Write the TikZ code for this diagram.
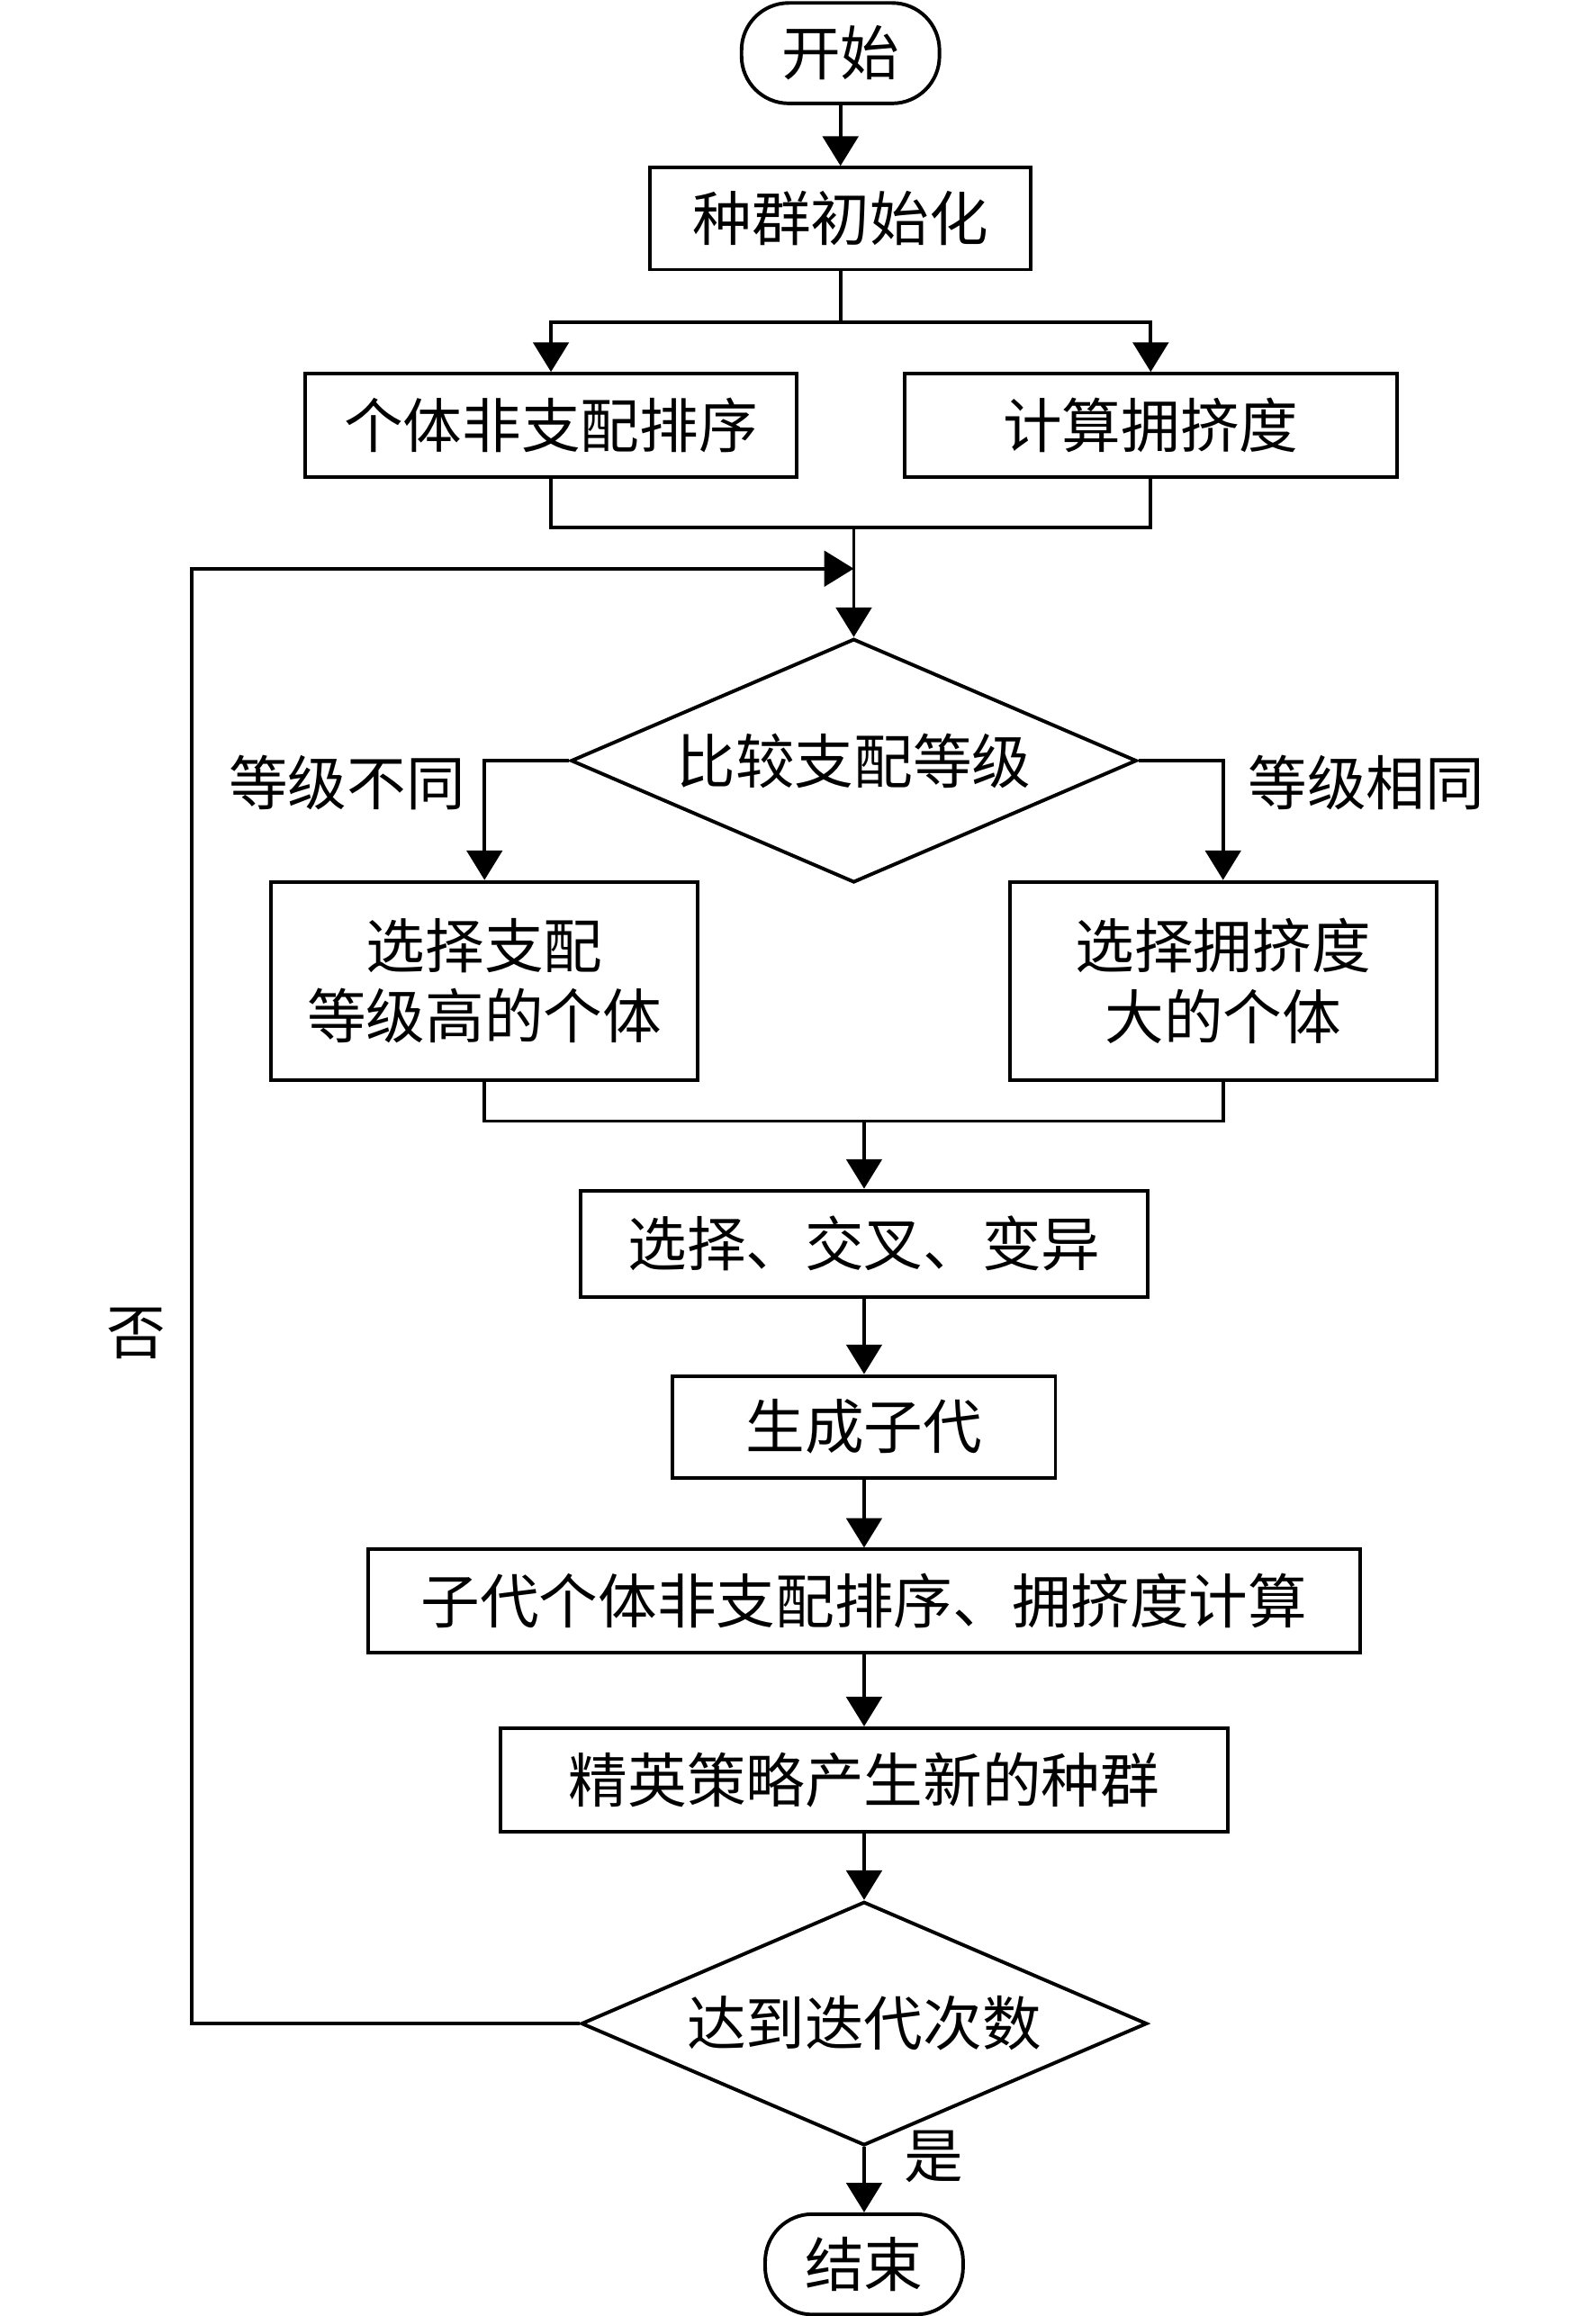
\documentclass[tikz,border=0pt]{standalone}
\usepackage{fontspec}
\newfontfamily\cjk{Noto Sans CJK SC}
\usetikzlibrary{positioning,shapes.geometric,arrows.meta}

\begin{document}
\begin{tikzpicture}[->,>={Triangle[width=12pt,length=10pt]},x=0.5pt,y=-0.5pt,line width=1.2pt,
    box node/.style={rectangle,draw,align=center,inner sep=0pt,font=\cjk\fontsize{20pt}{24pt}\selectfont},
    end node/.style={box node,rounded corners=16pt,minimum width=67pt,minimum height=34pt},
    test node/.style={diamond,draw,aspect=2.3,inner sep=0pt,minimum width=191.5pt,minimum height=82.5pt,font=\cjk\fontsize{20pt}{24pt}\selectfont},
    text node/.style={font=\cjk\fontsize{20pt}{24pt}\selectfont}]

            \useasboundingbox (0,0) rectangle (1080,1568);

            \node[end node] (1) at (569,36) {开始};
            \node[box node, minimum width=129pt, minimum height=34.5pt] (2) at (569,148) {种群初始化};
            \node[box node, minimum width=166.5pt, minimum height=35pt] (3) at (373,288) {个体非支配排序};
            \node[box node, minimum width=166.5pt, minimum height=35pt] (4) at (779,288) {计算拥挤度};
            \node[test node] (5) at (578,515) {比较支配等级};
            \node[box node, minimum width=144.5pt, minimum height=67pt] (6) at (328,664) {选择支配\\等级高的个体};
            \node[box node, minimum width=144.5pt, minimum height=67pt] (7) at (828,664) {选择拥挤度\\大的个体};
            \node[box node, minimum width=192pt, minimum height=36pt] (8) at (585,842) {选择、交叉、变异};
            \node[box node, minimum width=129.5pt, minimum height=34.5pt] (9) at (585,966) {生成子代};
            \node[box node, minimum width=336pt, minimum height=35pt] (10) at (585,1084) {子代个体非支配排序、拥挤度计算};
            \node[box node, minimum width=246pt, minimum height=35pt] (11) at (585,1205) {精英策略产生新的种群};
            \node[test node] (12) at (585,1370) {达到迭代次数};
            \node[end node] (13) at (585,1533) {结束};

            \node[text node] (5a) at (235,530) {等级不同};
            \node[text node] (5b) at (925,530) {等级相同};
            \node[text node] (12a) at (92,903) {否};
            \node[text node] (12b) at (632,1460) {是};

            \coordinate (s1) at (569,218);
            \coordinate (j1) at (578,357);
            \coordinate (j2) at (585,759);
            \coordinate (f1) at (130,385);
            \coordinate (f2) at (578,385);

            \path
                (1) edge (2)
                (j1) edge (5)
                (j2) edge (8)
                (8) edge (9)
                (9) edge (10)
                (10) edge (11)
                (11) edge (12)
                (12) edge (13)
            ;

            \draw[-] (2) -- (s1);
            \draw (s1) -| (3);
            \draw (s1) -| (4);
            \draw[-] (3) |- (j1);
            \draw[-] (4) |- (j1);
            \draw (5) -| (6);
            \draw (5) -| (7);
            \draw[-] (6) |- (j2);
            \draw[-] (7) |- (j2);
            \draw (12) -| (f1) -- (f2);
        \end{tikzpicture}
\end{document}
